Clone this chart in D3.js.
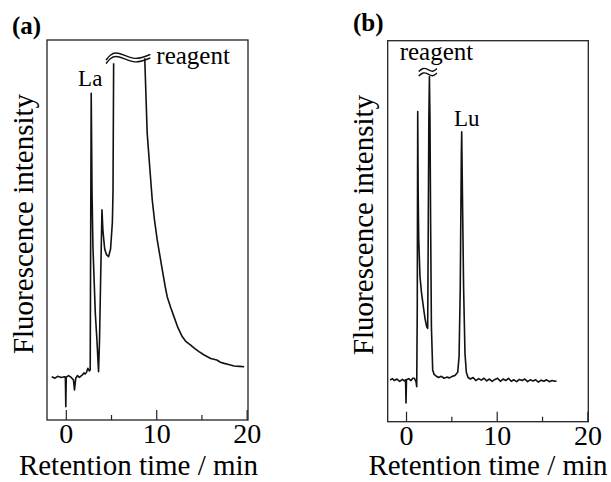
<!DOCTYPE html>
<html>
<head>
<meta charset="utf-8">
<script src="https://cdn.jsdelivr.net/npm/d3@7"></script>
<style>
  body { margin: 0; background: #fff; }
  text { font-family: "Liberation Serif", "Times New Roman", serif; fill: #000; }
</style>
</head>
<body>
<svg id="chart" width="611" height="482"></svg>
<script>
// (a) La chromatogram, retention time (min) vs fluorescence (a.u.), null = broken off-scale top
const timeA = [-1.56, -1.2, -0.9, -0.5, -0.15, -0.05, 0.0, 0.05, 0.3, 0.6, 0.85, 0.96, 1.1, 1.3, 1.5, 1.8, 2.0, 2.14, 2.3, 2.44, 2.6, 2.7,
  2.76, 2.81, 2.9, 3.0, 3.26, 3.44, 3.62, 3.73, 3.85, 4.0, 4.1, 4.3, 4.5, 4.73, 4.95, 5.15, 5.22, 5.29, 7.0,
  8.73, 9.0, 9.3, 9.56, 9.81, 10.11, 10.4, 10.67, 11.0, 11.22, 11.6, 11.96, 12.4, 12.89, 13.3, 13.81, 14.2, 14.73,
  15.3, 16.03, 16.7, 17.1, 17.51, 18.0, 18.62, 19.2, 19.73];
const signalA = [11.4, 11.0, 11.5, 11.2, 11.4, 11.3, 3.5, 11.3, 11.7, 11.2, 10.5, 7.9, 11.0, 11.7, 11.2, 11.8, 12.4, 12.1, 12.6, 13.6, 12.9, 13.2,
  55, 86, 60, 45.6, 28.2, 21.1, 12.7, 21.1, 36.8, 55.3, 50, 45, 43.5, 43, 45, 52, 60, 93.9, null,
  95.2, 75.5, 66, 57.9, 52.6, 47.4, 43.3, 39.5, 35, 32.4, 29.6, 27.2, 24.3, 21.9, 20.6, 19.7, 18.9, 18.0,
  17.1, 16.2, 15.8, 15.2, 14.9, 14.6, 14.2, 14.1, 14.0];

// (b) Lu chromatogram
const timeB = [-1.76, -1.5, -1.3, -1.0, -0.7, -0.4, -0.2, -0.05, 0.0, 0.05, 0.3, 0.55, 0.75, 0.92, 1.1, 1.18,
  1.24, 1.29, 1.34, 1.4, 1.54, 1.7, 1.91, 2.1, 2.28, 2.39, 2.45, 2.52, 2.58, 2.64, 2.72, 2.8, 2.94,
  3.1, 3.3, 3.6, 3.9, 4.2, 4.5, 4.8, 5.1, 5.4, 5.7, 5.85, 5.98, 6.1, 6.14, 6.22, 6.35, 6.5, 6.65, 6.84,
  7.1, 7.4, 7.7, 8.0, 8.3, 8.6, 8.9, 9.2, 9.5, 9.8, 10.1, 10.4, 10.7, 11.0, 11.3, 11.6, 11.9, 12.2, 12.5,
  12.8, 13.1, 13.4, 13.7, 14.0, 14.3, 14.6, 14.9, 15.2, 15.5, 15.8, 16.1, 16.4, 16.6];
const signalB = [10.9, 11.3, 10.8, 11.2, 10.6, 11.1, 10.7, 11.0, 4.9, 11.0, 11.3, 10.8, 11.4, 11.4, 10.5, 9.2,
  30, 81.4, 60, 48, 38.1, 34, 30.2, 27, 24.9, 24.5, 50, 80, 90.6, 80, 50, 25, 13.6,
  12.4, 12.0, 11.6, 11.9, 11.4, 11.7, 11.5, 11.9, 12.1, 13.0, 17, 35, 70, 76.1, 60, 35, 18, 13, 11.6,
  11.2, 11.6, 10.8, 11.3, 10.9, 11.4, 10.7, 11.2, 10.6, 11.1, 11.4, 10.6, 11.2, 10.8, 11.4, 10.6, 11.0, 10.5, 11.1,
  10.8, 11.2, 10.5, 11.0, 10.7, 11.0, 10.4, 10.9, 10.6, 11.0, 10.5, 10.8, 10.6, 10.7];

// axis break marks (wavy lines over the off-scale reagent peak)
const breakTimeA = [4.45, 4.9, 5.5, 6.4, 7.5, 8.4, 9.35];
const breakSignalA = [94.7, 96.1, 96.8, 96.1, 95.0, 95.3, 96.2];
const breakTimeB = [1.4, 1.9, 2.45, 2.95, 3.4];
const breakSignalB = [91.9, 93.0, 92.4, 91.7, 92.7];

const majorTicks = [0, 10, 20];
const minorTicks = [5, 15];

const svg = d3.select("#chart");

let drawPanel = (cfg) => {
  const x = d3.scaleLinear().domain(cfg.xDomain).range([cfg.left, cfg.right]);
  const y = d3.scaleLinear().domain([0, 100]).range([cfg.bottom, cfg.top]);
  const g = svg.append("g");

  // frame
  g.append("rect")
    .attr("x", cfg.left).attr("y", cfg.top)
    .attr("width", cfg.right - cfg.left).attr("height", cfg.bottom - cfg.top)
    .attr("fill", "none").attr("stroke", "#222").attr("stroke-width", 1.3);

  // ticks pointing inward
  const major = g.append("g").attr("transform", `translate(0,${cfg.bottom})`)
    .call(d3.axisBottom(x).tickValues(majorTicks).tickSize(-10).tickPadding(3).tickFormat(d3.format("d")));
  const minor = g.append("g").attr("transform", `translate(0,${cfg.bottom})`)
    .call(d3.axisBottom(x).tickValues(cfg.minor).tickSize(-5).tickFormat(""));
  [major, minor].forEach(a => {
    a.select(".domain").remove();
    a.selectAll("line").attr("stroke", "#222").attr("stroke-width", 1.2);
  });
  major.selectAll("text").attr("font-family", "Liberation Serif").attr("font-size", 28).attr("fill", "#000");

  // chromatogram trace
  const pts = cfg.time.map((t, i) => ({ t: t, v: cfg.signal[i] }));
  const line = d3.line().defined(d => d.v !== null).x(d => x(d.t)).y(d => y(d.v));
  g.append("path").datum(pts)
    .attr("d", line).attr("fill", "none").attr("stroke", "#111")
    .attr("stroke-width", 1.6).attr("stroke-linejoin", "round");

  // double wavy break
  const wave = d3.line().curve(d3.curveBasis).x(d => x(d.t)).y(d => y(d.v) + d.off);
  [0, cfg.gap].forEach(off => {
    g.append("path")
      .datum(cfg.breakTime.map((t, i) => ({ t: t, v: cfg.breakSignal[i], off: off })))
      .attr("d", wave).attr("fill", "none").attr("stroke", "#111").attr("stroke-width", 1.4);
  });

  // axis titles and panel label
  g.append("text").attr("x", cfg.titleX).attr("y", 475).attr("text-anchor", "middle")
    .attr("font-size", 29).text("Retention time / min");
  g.append("text")
    .attr("transform", `translate(${cfg.yTitleX},${cfg.yTitleY}) rotate(-90)`)
    .attr("text-anchor", "middle").attr("font-size", 29).text("Fluorescence intensity");
  g.append("text").attr("x", cfg.labelX).attr("y", cfg.labelY)
    .attr("font-size", 25).attr("font-weight", "bold").text(cfg.label);

  cfg.notes.forEach(n => {
    g.append("text").attr("x", x(n.t) + n.dx).attr("y", y(n.v) + n.dy)
      .attr("text-anchor", n.anchor).attr("font-size", n.size).text(n.text);
  });
};

drawPanel({
  xDomain: [-2.08, 20.15], left: 47, right: 248, top: 40, bottom: 420,
  time: timeA, signal: signalA, minor: minorTicks,
  breakTime: breakTimeA, breakSignal: breakSignalA, gap: 3.5,
  titleX: 138.5, yTitleX: 33, yTitleY: 224,
  label: "(a)", labelX: 12, labelY: 34,
  notes: [
    { text: "La", t: 2.81, v: 86, dx: -1, dy: -7, anchor: "middle", size: 23 },
    { text: "reagent", t: 9.35, v: 96.2, dx: 6, dy: 10, anchor: "start", size: 25 }
  ]
});

drawPanel({
  xDomain: [-2.02, 20.1], left: 387.7, right: 588.3, top: 40.7, bottom: 421.7,
  time: timeB, signal: signalB, minor: minorTicks,
  breakTime: breakTimeB, breakSignal: breakSignalB, gap: 4.5,
  titleX: 488, yTitleX: 373, yTitleY: 225,
  label: "(b)", labelX: 353, labelY: 31,
  notes: [
    { text: "reagent", t: 2.58, v: 90.6, dx: 7, dy: -17, anchor: "middle", size: 25 },
    { text: "Lu", t: 6.14, v: 76.1, dx: 5, dy: -6, anchor: "middle", size: 23 }
  ]
});
</script>
</body>
</html>
